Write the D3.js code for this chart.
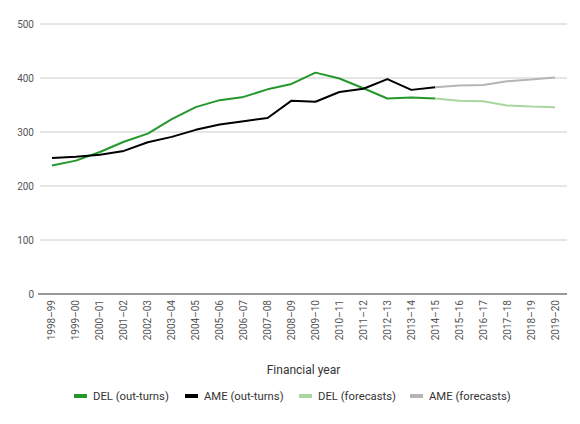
<!DOCTYPE html>
<html>
<head>
<meta charset="utf-8">
<title>DEL and AME</title>
<script src="https://cdn.jsdelivr.net/npm/d3@7"></script>
<style>
  body { margin: 0; background: #fff; }
  text { font-family: Roboto, "Noto Sans", sans-serif; }
</style>
</head>
<body>
<script>
// financial years on the x axis
var years = ["1998–99", "1999–00", "2000–01", "2001–02", "2002–03", "2003–04",
  "2004–05", "2005–06", "2006–07", "2007–08", "2008–09", "2009–10", "2010–11",
  "2011–12", "2012–13", "2013–14", "2014–15", "2015–16", "2016–17", "2017–18",
  "2018–19", "2019–20"];

var yTicks = [0, 100, 200, 300, 400, 500];

// out-turns 1998-99 .. 2014-15
var delOut = [238, 247, 263, 282, 297, 324, 346, 359, 365, 379, 389, 410, 399, 381, 362, 364, 362];
var ameOut = [252, 254, 258, 265, 281, 291, 304, 314, 320, 326, 358, 356, 374, 380, 398, 378, 383];

// forecasts 2014-15 .. 2019-20
var delFc = [362, 358, 357, 349, 347, 346];
var ameFc = [383, 386, 387, 394, 397, 401];

var seriesNames = ["DEL (out-turns)", "AME (out-turns)", "DEL (forecasts)", "AME (forecasts)"];
var seriesColors = ["#24982b", "#000000", "#a9d79f", "#b5b5b5"];

var width = 580, height = 424,
    margins = { left: 40, top: 24, right: 13, bottom: 130 };

var svg = d3.select("body").append("svg")
    .attr("width", width)
    .attr("height", height);

var x = d3.scalePoint().domain(years).range([margins.left, width - margins.right]).padding(0.5);
var y = d3.scaleLinear().domain([0, 500]).range([height - margins.bottom, margins.top]);

// grid lines + y labels
var yAxis = svg.append("g").attr("class", "y-axis");
yAxis.selectAll("line.grid")
    .data(yTicks.slice(1))
    .enter().append("line")
    .attr("x1", margins.left).attr("x2", width - margins.right)
    .attr("y1", function (d) { return y(d); }).attr("y2", function (d) { return y(d); })
    .style("stroke", "#cccccc").style("stroke-width", 1);
yAxis.selectAll("text")
    .data(yTicks)
    .enter().append("text")
    .attr("x", margins.left - 6)
    .attr("y", function (d) { return y(d); })
    .attr("dy", "0.35em")
    .attr("text-anchor", "end")
    .style("font-size", "10px").style("fill", "#555")
    .text(function (d) { return d; });

// x axis
var xAxis = svg.append("g").attr("class", "x-axis");
xAxis.append("line")
    .attr("x1", margins.left - 2).attr("x2", width - margins.right)
    .attr("y1", y(0)).attr("y2", y(0))
    .style("stroke", "#333").style("stroke-width", 1);
xAxis.selectAll("text")
    .data(years)
    .enter().append("text")
    .attr("transform", function (d) { return "translate(" + (x(d) + 3.5) + "," + (y(0) + 6) + ") rotate(-90)"; })
    .attr("text-anchor", "end")
    .style("font-size", "10px").style("fill", "#555")
    .text(function (d) { return d; });

svg.append("text")
    .attr("x", (margins.left + width - margins.right) / 2)
    .attr("y", 374)
    .attr("text-anchor", "middle")
    .style("font-size", "12px").style("fill", "#333")
    .text("Financial year");

// lines
var line = d3.line()
    .x(function (d) { return x(d.year); })
    .y(function (d) { return y(d.value); });

function toPoints(values, offset) {
    return values.map(function (v, i) { return { year: years[i + offset], value: v }; });
}

var data = [
    toPoints(delOut, 0),
    toPoints(ameOut, 0),
    toPoints(delFc, 16),
    toPoints(ameFc, 16)
];

svg.selectAll("path.line")
    .data(data)
    .enter().append("path")
    .attr("class", "line")
    .attr("d", function (d) { return line(d); })
    .style("fill", "none")
    .style("stroke", function (d, i) { return seriesColors[i]; })
    .style("stroke-width", 2)
    .style("stroke-linejoin", "round");

// legend
var legendX = [74, 185, 299, 410];
var legend = svg.selectAll("g.legend")
    .data(seriesNames)
    .enter().append("g")
    .attr("class", "legend")
    .attr("transform", function (d, i) { return "translate(" + legendX[i] + ",396)"; });
legend.append("rect")
    .attr("x", 0).attr("y", -2)
    .attr("width", 13).attr("height", 4)
    .style("fill", function (d, i) { return seriesColors[i]; });
legend.append("text")
    .attr("x", 19).attr("dy", "0.35em")
    .style("font-size", "11.3px").style("fill", "#333")
    .text(function (d) { return d; });
</script>
</body>
</html>
